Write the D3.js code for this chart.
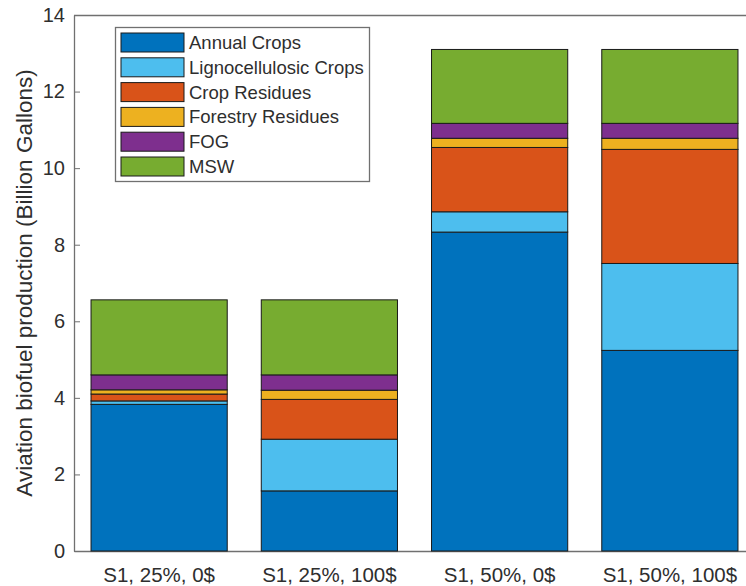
<!DOCTYPE html>
<html>
<head>
<meta charset="utf-8">
<script src="https://cdn.jsdelivr.net/npm/d3@7/dist/d3.min.js"></script>
<style>
  html, body { margin: 0; padding: 0; background: #fff; }
  svg { display: block; font-family: "Liberation Sans", Arial, Helvetica, sans-serif; }
</style>
</head>
<body>
<svg id="chart" width="746" height="586"></svg>
<script>
// Scenario categories along the x axis
const categories = ["S1, 25%, 0$", "S1, 25%, 100$", "S1, 50%, 0$", "S1, 50%, 100$"];

// Feedstock series, stacked bottom to top
const seriesNames = ["Annual Crops", "Lignocellulosic Crops", "Crop Residues", "Forestry Residues", "FOG", "MSW"];
const seriesColors = ["#0072BD", "#4DBEEE", "#D95319", "#EDB120", "#7E2F8E", "#77AC30"];

// Production per feedstock (billion gallons), one value per scenario
const annualCrops        = [3.83, 1.57, 8.33, 5.24];
const lignocellulosic    = [0.09, 1.35, 0.53, 2.27];
const cropResidues       = [0.18, 1.04, 1.68, 2.98];
const forestryResidues   = [0.11, 0.24, 0.24, 0.29];
const fog                = [0.39, 0.40, 0.39, 0.39];
const msw                = [1.96, 1.96, 1.93, 1.93];

const yTicks = [0, 2, 4, 6, 8, 10, 12, 14];
const yLabel = "Aviation biofuel production (Billion Gallons)";

const seriesValues = [annualCrops, lignocellulosic, cropResidues, forestryResidues, fog, msw];
const rows = categories.map((c, i) => {
  const r = { category: c };
  seriesNames.forEach((s, k) => { r[s] = seriesValues[k][i]; });
  return r;
});

const svg = d3.select("#chart");
const plot = { left: 74, right: 755, top: 15, bottom: 551 };

const x = d3.scaleBand()
  .domain(categories)
  .range([plot.left, plot.right])
  .paddingInner(0.2)
  .paddingOuter(0.1);

const y = d3.scaleLinear().domain([0, 14]).range([plot.bottom, plot.top]);

const stack = d3.stack().keys(seriesNames);
const stacked = stack(rows);

const axisColor = "#707070";
const textColor = "#2e2e2e";

// Plot box top line
svg.append("line")
  .attr("x1", plot.left).attr("x2", plot.right)
  .attr("y1", plot.top + 0.5).attr("y2", plot.top + 0.5)
  .attr("stroke", axisColor).attr("stroke-width", 1.3);

// Y axis with inward ticks
const yAxis = d3.axisLeft(y).tickValues(yTicks).tickSizeInner(-6).tickSizeOuter(0).tickPadding(9);
const gy = svg.append("g").attr("transform", `translate(${plot.left},0)`).call(yAxis);
gy.select(".domain").attr("stroke", axisColor).attr("stroke-width", 1.3);
gy.selectAll(".tick line").attr("stroke", axisColor);
gy.selectAll(".tick text")
  .attr("fill", textColor)
  .style("font-size", "20px")
  .style("font-family", "'Liberation Sans', Arial, sans-serif");

// X axis
const xAxis = d3.axisBottom(x).tickSizeInner(-6).tickSizeOuter(0).tickPadding(16);
const gx = svg.append("g").attr("transform", `translate(0,${plot.bottom})`).call(xAxis);
gx.select(".domain").attr("stroke", axisColor).attr("stroke-width", 1.3);
gx.selectAll(".tick line").attr("stroke", axisColor);
gx.selectAll(".tick text")
  .attr("fill", textColor)
  .style("font-size", "20.5px")
  .style("font-family", "'Liberation Sans', Arial, sans-serif");

// Stacked bars
svg.append("g")
  .selectAll("g")
  .data(stacked)
  .join("g")
  .attr("fill", (d, i) => seriesColors[i])
  .selectAll("rect")
  .data(d => d)
  .join("rect")
  .attr("x", d => x(d.data.category))
  .attr("width", x.bandwidth())
  .attr("y", d => y(d[1]))
  .attr("height", d => y(d[0]) - y(d[1]))
  .attr("stroke", "#1a1a1a")
  .attr("stroke-width", 1);

// Y axis title
svg.append("text")
  .attr("transform", `translate(32,${(plot.top + plot.bottom) / 2}) rotate(-90)`)
  .attr("text-anchor", "middle")
  .attr("fill", textColor)
  .style("font-size", "22.5px")
  .text(yLabel);

// Legend
const legend = svg.append("g").attr("transform", "translate(115,27)");
legend.append("rect")
  .attr("x", 0.5).attr("y", 0.5)
  .attr("width", 254).attr("height", 154)
  .attr("fill", "#fff")
  .attr("stroke", "#707070")
  .attr("stroke-width", 1.3);

const item = legend.selectAll("g.item")
  .data(seriesNames)
  .join("g")
  .attr("class", "item")
  .attr("transform", (d, i) => `translate(0,${6 + i * 24.8})`);

item.append("rect")
  .attr("x", 6).attr("y", 0)
  .attr("width", 63).attr("height", 19)
  .attr("fill", (d, i) => seriesColors[i])
  .attr("stroke", "#1a1a1a")
  .attr("stroke-width", 1);

item.append("text")
  .attr("x", 74).attr("y", 16)
  .attr("fill", textColor)
  .style("font-size", "18.5px")
  .text(d => d);
</script>
</body>
</html>
